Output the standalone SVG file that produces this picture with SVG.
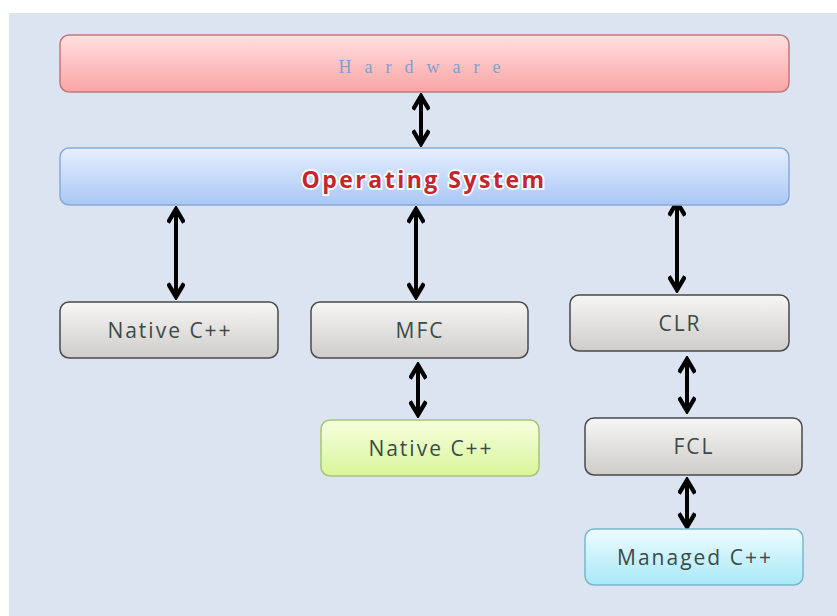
<svg xmlns="http://www.w3.org/2000/svg" width="837" height="616" viewBox="0 0 837 616">
<defs>
<linearGradient id="gPink" x1="0" y1="0" x2="0" y2="1"><stop offset="0" stop-color="#ffe0e0"/><stop offset="1" stop-color="#fba4a4"/></linearGradient>
<linearGradient id="gBlue" x1="0" y1="0" x2="0" y2="1"><stop offset="0" stop-color="#e6efff"/><stop offset="1" stop-color="#a9c7f5"/></linearGradient>
<linearGradient id="gGray" x1="0" y1="0" x2="0" y2="1"><stop offset="0" stop-color="#f6f6f4"/><stop offset="1" stop-color="#cfcdca"/></linearGradient>
<linearGradient id="gGreen" x1="0" y1="0" x2="0" y2="1"><stop offset="0" stop-color="#f6ffe0"/><stop offset="1" stop-color="#d9f59a"/></linearGradient>
<linearGradient id="gCyan" x1="0" y1="0" x2="0" y2="1"><stop offset="0" stop-color="#eefbff"/><stop offset="1" stop-color="#a8e9f8"/></linearGradient>
<marker id="ah" viewBox="0 0 10 10" refX="8" refY="5" markerWidth="4.5" markerHeight="4.5" orient="auto-start-reverse" markerUnits="strokeWidth">
<path d="M1,0.5 L8.5,5 L1,9.5" fill="none" stroke="#000" stroke-width="2.4" stroke-linejoin="miter"/>
</marker>
</defs>
<style>
.box{stroke-width:1.5}
.gray{fill:url(#gGray);stroke:#4a4a4a}
.lbl{font-family:"Open Sans","DejaVu Sans",sans-serif;font-size:21px;letter-spacing:2px;fill:#3c4a48;text-anchor:middle;dominant-baseline:central}
.con{stroke:#000;stroke-width:4;fill:none;marker-start:url(#ah);marker-end:url(#ah)}
</style>
<rect x="0" y="0" width="837" height="616" fill="#ffffff"/>
<rect x="9" y="13" width="828" height="603" fill="#dbe4f0"/>

<g id="connectors">
<line class="con" x1="421" y1="97" x2="421" y2="143"/>
<line class="con" x1="176" y1="210" x2="176" y2="296"/>
<line class="con" x1="416" y1="210" x2="416" y2="296"/>
<line class="con" x1="677" y1="203" x2="677" y2="289"/>
<line class="con" x1="418" y1="366" x2="418" y2="414"/>
<line class="con" x1="687" y1="360" x2="687" y2="410"/>
<line class="con" x1="687" y1="481" x2="687" y2="526"/>
</g>

<g id="hardware">
<rect class="box" x="60" y="35" width="729" height="57" rx="9" fill="url(#gPink)" stroke="#c07a7e"/>
<text x="426" y="67" font-family="'Liberation Serif',serif" font-size="18" fill="#7f9fd3" text-anchor="middle" letter-spacing="13" dominant-baseline="central">Hardware</text>
</g>

<g id="os">
<rect class="box" x="60" y="148" width="729" height="57" rx="9" fill="url(#gBlue)" stroke="#8aa9d8"/>
<text x="424" y="179" font-family="'Open Sans','DejaVu Sans',sans-serif" font-size="23" font-weight="bold" letter-spacing="2.5" fill="#c3262d" stroke="#ffffff" stroke-width="3.5" paint-order="stroke" text-anchor="middle" dominant-baseline="central">Operating System</text>
</g>

<g id="native1">
<rect class="box gray" x="60" y="302" width="218" height="56" rx="9"/>
<text class="lbl" x="170" y="330">Native C++</text>
</g>

<g id="mfc">
<rect class="box gray" x="311" y="302" width="217" height="56" rx="9"/>
<text class="lbl" x="420" y="330">MFC</text>
</g>

<g id="clr">
<rect class="box gray" x="570" y="295" width="219" height="56" rx="9"/>
<text class="lbl" x="680" y="323">CLR</text>
</g>

<g id="native2">
<rect class="box" x="321" y="420" width="218" height="56" rx="9" fill="url(#gGreen)" stroke="#a9c47a"/>
<text class="lbl" x="431" y="448">Native C++</text>
</g>

<g id="fcl">
<rect class="box gray" x="585" y="418" width="217" height="57" rx="9"/>
<text class="lbl" x="694" y="446">FCL</text>
</g>

<g id="managed">
<rect class="box" x="585" y="529" width="218" height="56" rx="9" fill="url(#gCyan)" stroke="#7ab8c8"/>
<text class="lbl" x="695" y="557">Managed C++</text>
</g>
</svg>
